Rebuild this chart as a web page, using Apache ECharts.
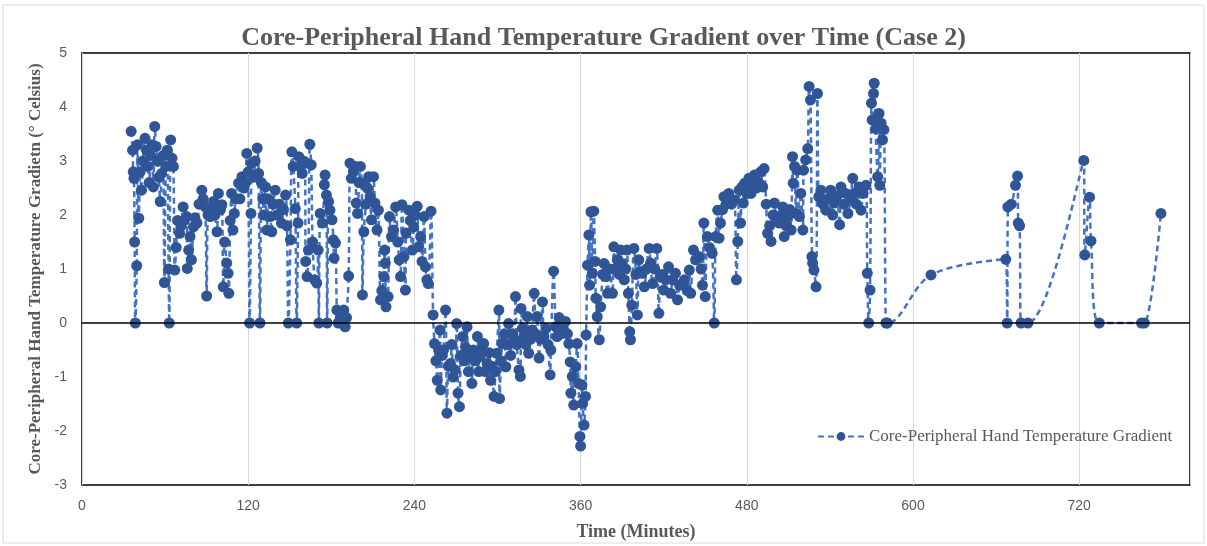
<!DOCTYPE html>
<html>
<head>
<meta charset="utf-8">
<title>Core-Peripheral Hand Temperature Gradient over Time (Case 2)</title>
<script src="https://cdn.jsdelivr.net/npm/echarts@6/dist/echarts.min.js"></script>
<style>
  html, body { margin: 0; padding: 0; background: #fff; }
  #chart { width: 1207px; height: 546px; }
</style>
</head>
<body>
<div id="chart"></div>
<script>
// [minutes, gradient in °C]
const seg1 = [
  [35.5,3.55],[36.5,3.2],[37,2.8],[37.5,2.68],[38,1.5],[38.5,0],[39.5,1.06],[40,3.3],[41,1.94],[42,2.8],
  [43,2.46],[44,3.0],[45.5,3.42],[46.5,3.2],[47.5,2.9],[48.5,2.6],[49.5,3.1],[50.5,3.3],[51.5,2.52],[52.5,3.64],
  [53.5,3.27],[54.5,3.0],[55.5,2.7],[56.5,2.25],[57.5,2.77],[58.5,3.1],[59.5,0.75],[60.5,2.9],[61.5,3.2],[62.5,1.0],
  [63,0],[64,3.39],[65,3.05],[66,2.9],[67,0.98]
];
const seg2 = [
  [68,1.4],[69,1.9],[70.5,1.66],[71.5,1.8],[73,2.15],[74,1.9],[75.5,1.97],[76,1.01],[77,1.35],[78,1.6],
  [79,1.17],[80.5,1.78],[81.5,1.95],[83,1.85],[84.5,2.2],[86.5,2.46],[87.5,2.3],[89,2.15],[90,0.5],[91,2.0],
  [92.5,1.97],[94,2.1],[95,2.25],[96,2.0],[97.5,1.69],[98.5,2.4],[100,2.1],[101,2.19],[102,0.67],[103,1.5],
  [104.5,1.11],[105.5,0.92],[106,0.55],[107,1.9],[108,2.4],[109,1.72],[110,2.03],[111,2.3],[113,2.59],[114,2.3],
  [115.5,2.71],[117,2.5],[118,2.6],[119,3.14],[120,2.8],[121,0],[122,2.03],[122.5,2.96],[124,2.7],[125,3.0],
  [126.5,3.24],[127.5,2.77],[128.5,0],[129.5,2.6],[130.5,2.3]
];
const seg3 = [
  [131.5,2.0],[132.5,2.52],[133.5,1.72],[134.5,2.3],[136,1.97],[137,1.69],[138,2.2],[139.5,2.46],[141,2.0],[142.5,2.2],
  [144,1.85],[145.5,2.1],[147,2.37],[148,1.8],[149,0],[150.5,1.54],[151.5,3.17],[152.5,2.9],[154,2.12],[155,0],
  [156,1.85],[156.5,3.08],[157.5,2.9],[159,2.77],[160,3.0],[161,2.96],[161.5,1.14],[162.5,0.86],[163.5,1.35],[164.5,3.31],
  [165.5,2.93],[166.5,1.5],[168,0.8],[169.5,0.74],[170.5,1.35],[171,0],[172,2.03],[173.5,1.85],[175,2.56],[175.5,2.74],
  [176.5,2.37],[177,0],[178,2.25],[179,2.09],[180.5,1.91],[181.5,1.54],[182,1.2],[183,1.48],[184,0.24],[185,0],
  [186.5,0.1],[188,0.2],[189,0.24],[190,-0.07],[191,0.1],[192.5,0.87]
];
const seg4 = [
  [193.5,2.96],[194.5,2.68],[196,2.8],[197.5,2.9],[198,2.22],[199,2.03],[200,2.6],[201,2.9],[202,2.59],[202.5,0.52],
  [203.5,1.69],[205,2.2],[206,2.5],[207,2.71],[208,2.34],[209,1.91],[210.5,2.71],[211.5,2.22],[213,1.72],[214,2.09],
  [215.5,0.43],[216.5,0.6],[218,0.86],[218.5,1.35],[219,1.11],[219.5,0.3],[221,0.49],[222,1.97],[223.5,1.6],[225,1.72],
  [226.5,2.15],[228,1.5],[229,1.17],[230,0.86],[231,2.19],[232.5,1.23],[233.5,0.61],[234,1.66],[236,2.09],[237,1.9],
  [238.5,1.35],[239.5,1.78],[240.5,2.0],[242,2.16],[243,1.41],[244.5,1.6],[245.5,1.14],[247,1.97],[248,1.04],[249,0.8],
  [250,0.73],[252,2.07],[253.5,0.15]
];
const seg5 = [
  [254.5,-0.38],[255.5,-0.7],[256.5,-1.06],[257.5,-0.5],[258.5,-0.13],[259,-1.24],[260,-0.6],[261,-0.5],[262.5,0.24],[263.5,-1.67],
  [264.5,-0.8],[266,-0.75],[267,-0.4],[268,-1.0],[269.5,-0.87],[270.5,-0.01],[271.5,-1.3],[272.5,-1.55],[273.5,-0.6],[275,-0.25],
  [276,-0.7],[277,-0.45],[278,-0.07],[279,-0.9],[280.5,-0.62],[281.5,-1.12],[282.5,-0.5],[284,-0.7],[285.5,-0.25],[286.5,-0.9],
  [287.5,-0.62],[289,-0.5],[290,-0.38],[291,-0.9],[292.5,-0.75],[294,-0.55],[295,-1.06],[296,-0.8],[297.5,-1.36],[298.5,-0.9],
  [299.5,-0.56],[301,0.24],[301.5,-1.4],[302.5,-0.7],[303.5,-0.38],[305,-0.2],[306,-0.81],[307,-0.4],[308,-0.01],[309.5,-0.6],
  [311,-0.2],[312,-0.31],[313,0.49],[314,-0.4],[315.5,-0.87],[316.5,-0.99],[317,0.27],[318,-0.1],[319,-0.25],[320.5,-0.4],
  [321.5,0.12],[322.5,-0.56],[324,-0.3],[325,-0.13],[326.5,0.55],[327.5,-0.2],[328.5,0.12],[330,-0.65],[331,-0.3],[332.5,0.39],
  [333.5,-0.25],[335,-0.1],[336.5,-0.4],[338,-0.96],[338.5,-0.5],[340.5,0.96],[342,-0.07],[343,-0.25],[344.5,0.1],[346,-0.2],
  [347.5,-0.1],[349,0.03],[350.5,-0.2],[351.5,-0.38],[352.5,-0.72],[353,-1.3],[354,-0.99],[355,-1.52],[356.5,-0.81],[357.5,-0.38],
  [358.5,-1.12],[359.5,-2.1],[360,-2.28],[361,-1.15],[361.5,-1.49],[362.5,-1.89],[363.5,-1.36],[364,-0.22]
];
const seg6 = [
  [365,1.07],[366,1.63],[366.5,0.7],[367.5,2.06],[368.5,0.92],[369.5,2.07],[370.5,1.14],[371,0.46],[372,0.12],[373.5,-0.31],
  [374.5,0.3],[376,0.9],[377,1.1],[378,0.86],[379.5,0.55],[381,1.0],[383,0.55],[384,1.41],[385,1.0],[386.5,1.17],
  [388,0.9],[389,1.35],[390,1.1],[391.5,0.8],[392.5,1.0],[393.5,1.35],[394.5,0.55],[395.5,-0.16],[396,-0.31],[397,0.33],
  [398.5,1.38],[400,0.9],[401,0.15],[402,1.17],[403,0.95],[404.5,0.92],[406,0.67],[407.5,1.0],[409.5,1.38],[410.5,1.11],
  [412,0.73],[413.5,1.0],[415,1.38],[416.5,0.18],[417.5,0.86],[419,0.9],[420,0.61],[421.5,0.8],[423.5,1.04],[425,0.55],
  [426.5,0.8],[428.5,0.92],[430,0.43],[431.5,0.7],[433.5,0.73],[435,0.8],[437,0.6],[438.5,0.98],[439.5,0.55],[441.5,1.35],
  [443,1.17],[445.5,1.23],[447,1.0],[448,0.7],[449,1.85],[450,0.49],[451.5,1.6],[453,1.4],[455,1.29],[456.5,0],
  [457.5,1.6],[459,2.09],[460,1.57],[461,1.85],[462.5,2.1],[463.5,2.34],[465,2.2],[467,2.4],[469,2.2],[471,2.28],
  [472.5,0.8],[473.5,1.51],[474.5,2.46],[475.5,1.85],[476.5,2.52],[477.5,2.22],[478.5,2.59],[480,2.4],[481.5,2.68],[483,2.4]
];
const seg7 = [
  [484.5,2.55],[485.5,2.74],[487,2.5],[488.5,2.6],[490,2.8],[491.5,2.52],[492.5,2.86],[494,2.2],[495,1.66],[496.5,1.8],
  [497.5,1.51],[499,2.0],[500,2.22],[501.5,1.9],[503.5,1.85],[505,2.0],[506,2.15],[507,1.6],[508.5,1.8],[509.5,1.97],
  [511,2.1],[512,1.72],[513,3.08],[513.5,2.59],[514.5,2.9],[515.5,2.03],[516.5,2.83],[518,1.97],[519,2.4],[520.5,1.72],
  [521,2.83],[522.5,3.02],[524,3.23],[525,4.38],[526,4.13],[527,1.23],[527.5,1.11],[528.5,0.98],[530,0.67],[531,4.25],
  [532,2.34],[533.5,2.46],[535,2.2],[537,2.09],[538.5,2.3],[540.5,2.46],[542,2.0],[543,2.22],[545,2.35],[547,1.82],
  [548,2.52],[550,2.2],[551.5,2.4],[553,2.03],[555,2.3],[556.5,2.68],[557.5,2.4],[559,2.2],[561,2.52],[562.5,2.09],
  [564,2.4],[566,2.55],[567,0.92],[568,0],[569,0.61],[570,4.07],[570.5,3.76],[571.5,4.25],[572,4.44],[573,3.6],
  [574.5,2.71],[575.5,3.88],[576,2.55],[577,3.7],[578,3.39],[579,3.58],[580.5,0],[581.5,0]
];
const seg8 = [
  [613,0.89],[667,1.18],[668,0],[668.5,2.15],[671,2.2],[674,2.55],[675.5,2.72],[676,1.85],[677,1.8],[678,0],
  [683,0],[723.3,3.01],[724,1.26],[727.5,2.33],[728.5,1.52],[734.5,0],[765,0],[767,0],[779,2.03]
];
const xTicks = [0, 120, 240, 360, 480, 600, 720];
const yTicks = [-3, -2, -1, 0, 1, 2, 3, 4, 5];

const seriesName = 'Core-Peripheral Hand Temperature Gradient';
const allPoints = [].concat(seg1, seg2, seg3, seg4, seg5, seg6, seg7, seg8);

const chart = echarts.init(document.getElementById('chart'));

chart.setOption({
  backgroundColor: '#fff',
  animation: false,
  title: {
    text: 'Core-Peripheral Hand Temperature Gradient over Time (Case 2)',
    left: 'center',
    top: 20,
    textStyle: {
      fontFamily: 'Liberation Serif',
      fontWeight: 'bold',
      fontSize: 26,
      color: '#595959'
    }
  },
  graphic: [{
    type: 'rect',
    shape: { x: 3, y: 5, width: 1201, height: 538 },
    style: { fill: 'none', stroke: '#d9d9d9', lineWidth: 1 },
    silent: true
  }],
  legend: {
    left: 812,
    top: 423,
    itemWidth: 46,
    itemHeight: 11,
    itemGap: 4,
    textStyle: { fontFamily: 'Liberation Serif', fontSize: 17, color: '#595959' },
    data: [seriesName]
  },
  grid: {
    left: 82,
    right: 17,
    top: 53,
    bottom: 61,
    show: true,
    borderColor: '#000',
    borderWidth: 1.5
  },
  xAxis: {
    type: 'value',
    min: xTicks[0],
    max: 800,
    interval: 120,
    name: 'Time (Minutes)',
    nameLocation: 'middle',
    nameGap: 38,
    nameTextStyle: { fontFamily: 'Liberation Serif', fontWeight: 'bold', fontSize: 18, color: '#595959' },
    axisLine: { onZero: false, show: false },
    axisTick: { show: false },
    axisLabel: { margin: 14, fontFamily: 'Liberation Sans', fontSize: 14, color: '#595959', showMaxLabel: false },
    splitLine: { show: true, lineStyle: { color: '#d9d9d9', width: 1 } }
  },
  yAxis: {
    type: 'value',
    min: yTicks[0],
    max: yTicks[yTicks.length - 1],
    interval: 1,
    name: 'Core-Peripheral Hand Temperature Gradietn (° Celsius)',
    nameLocation: 'middle',
    nameRotate: 90,
    nameGap: 37,
    nameTextStyle: { fontFamily: 'Liberation Serif', fontWeight: 'bold', fontSize: 17, color: '#595959' },
    axisLine: { show: false },
    axisTick: { show: false },
    axisLabel: { margin: 15, fontFamily: 'Liberation Sans', fontSize: 14, color: '#595959' },
    splitLine: { show: false }
  },
  series: [{
    name: seriesName,
    type: 'line',
    data: allPoints,
    smooth: 0.35,
    symbol: 'circle',
    symbolSize: 11,
    itemStyle: { color: '#2F5597' },
    lineStyle: { color: '#4472C4', width: 2.5, type: [6, 4] },
    markLine: {
      silent: true,
      symbol: 'none',
      label: { show: false },
      lineStyle: { color: '#000', width: 1.5, type: 'solid' },
      data: [{ yAxis: 0 }]
    },
    z: 3
  }]
});
</script>
</body>
</html>
